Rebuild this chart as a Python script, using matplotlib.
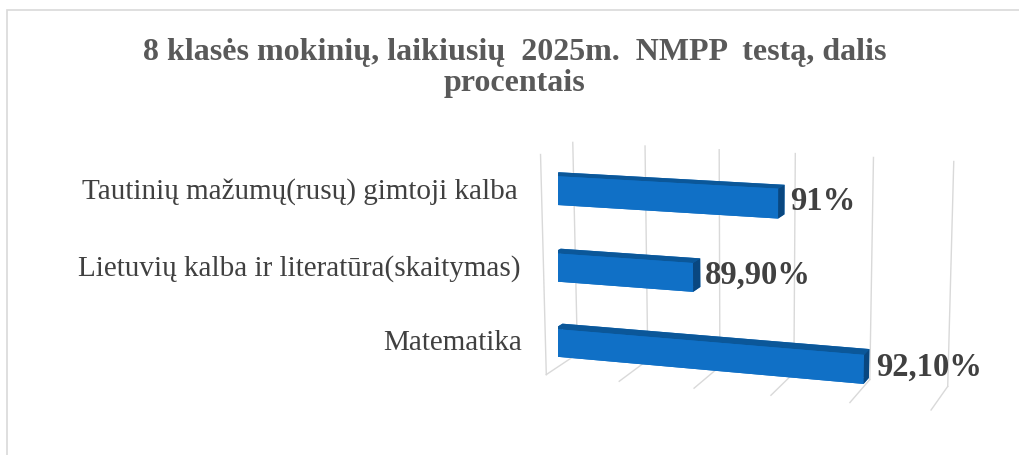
import matplotlib
matplotlib.use('Agg')
import matplotlib.pyplot as plt
from matplotlib.patches import Rectangle

categories = ['Matematika', 'Lietuvių kalba ir literatūra(skaitymas)',
              'Tautinių mažumų(rusų) gimtoji kalba']
values = [92.1, 89.9, 91.0]
value_labels = ['92,10%', '89,90%', '91%']
x_ticks = [88, 89, 90, 91, 92, 93]
title = '8 klasės mokinių, laikiusių  2025m.  NMPP  testą, dalis\nprocentais'

plt.rcParams['font.family'] = ['Liberation Serif', 'DejaVu Serif']

fig = plt.figure(figsize=(10.19, 4.55), dpi=100)
# light frame of the chart area (runs off the right and bottom edges)
fig.patches.append(Rectangle((7 / 1019, -0.1), 1.5, 1.1 - 10 / 455, transform=fig.transFigure,
                             fill=False, edgecolor='#d9d9d9', linewidth=1.2))

fig.text(0.505, 0.9165, title, ha='center', va='top', fontsize=23, weight='bold',
         color='#595959', linespacing=1.1)

ax = fig.add_axes([0.486, -0.006, 0.48, 0.8], projection='3d', proj_type='persp', focal_length=0.9)
ax.view_init(elev=13, azim=-72.5)
ax.set_box_aspect((390, 80, 222), zoom=1.25)
ax.set_axis_off()
xmin, xmax = x_ticks[0], x_ticks[-1]
zlo, zhi = 0.15, len(categories)
ax.set_xlim(xmin, xmax)
ax.set_ylim(0, 1)
ax.set_zlim(zlo, zhi)

# walls: vertical gridlines on the back wall, depth lines on the floor
grid = '#d9d9d9'
for t in x_ticks:
    ax.plot([t, t], [1, 1], [zlo, zhi], color=grid, lw=1.0, clip_on=False)
    ax.plot([t, t], [0, 1], [zlo, zlo], color=grid, lw=1.0, clip_on=False)
ax.plot([xmin, xmin], [0, 0], [zlo, zhi], color=grid, lw=1.0, clip_on=False)

front, back, top, side = '#1070C6', '#1070C6', '#0B5799', '#094780'
bar_h, y0, depth = 0.37, 0.27, 0.27
colors = []
for _ in categories:
    colors += [front, top, front, back, front, side]
ax.bar3d([xmin] * len(values), [y0] * len(values),
         [i + 0.5 - bar_h / 2 for i in range(len(values))],
         [v - xmin for v in values], [depth] * len(values), [bar_h] * len(values),
         color=colors, shade=False, linewidth=0)

for i, (cat, v, lab) in enumerate(zip(categories, values, value_labels)):
    ax.text(xmin - 0.45, y0, i + 0.5, cat, ha='right', va='center_baseline',
            fontsize=21, color='#404040')
    ax.text(v + 0.15, y0, i + 0.58, lab, ha='left', va='center_baseline', fontsize=23.5,
            weight='bold', color='#404040')

fig.savefig('out.png', dpi=100)
